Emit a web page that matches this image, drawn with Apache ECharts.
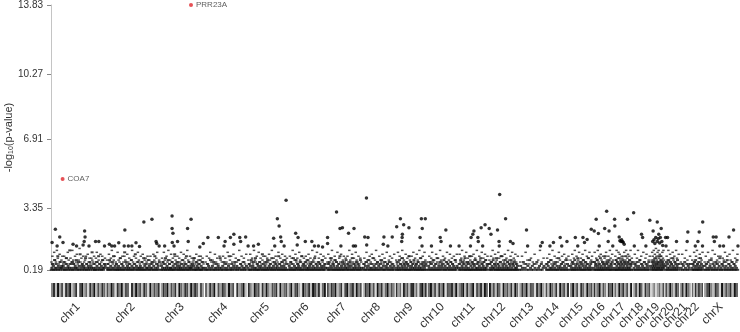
<!DOCTYPE html>
<html>
<head>
<meta charset="utf-8">
<script src="https://cdn.jsdelivr.net/npm/echarts@6/dist/echarts.min.js"></script>
<style>
  html, body { margin: 0; padding: 0; background: #fff; }
  #chart { width: 740px; height: 332px; }
</style>
</head>
<body>
<div id="chart"></div>
<script>
// chromosome names and lengths (Mb)
const chrNames = ['chr1', 'chr2', 'chr3', 'chr4', 'chr5', 'chr6', 'chr7', 'chr8', 'chr9', 'chr10', 'chr11', 'chr12',
  'chr13', 'chr14', 'chr15', 'chr16', 'chr17', 'chr18', 'chr19', 'chr20', 'chr21', 'chr22', 'chrX']
const chrLenMb = [249.25, 243.2, 198.0, 191.2, 180.9, 171.1, 159.1, 146.4, 141.2, 135.5, 135.0, 133.9,
  115.2, 107.3, 102.5, 90.4, 81.2, 78.1, 59.1, 63.0, 48.1, 51.3, 155.3]

const yTicks = [0.19, 3.35, 6.91, 10.27, 13.83]

// labelled genes (red)
const namedHits = [
  { gene: 'COA7', chr: 1, pos: 53.1, logP: 4.87 },
  { gene: 'PRR23A', chr: 3, pos: 138.7, logP: 13.83 }
]

// [chromosome (23 = X), position Mb, -log10 p] for points above the dense band
const topHits = [
  [1, 5, 1.61], [1, 20, 2.29], [1, 40, 1.89], [1, 28, 1.43], [1, 55, 1.61], [1, 101, 1.52], [1, 117, 1.43], [1, 154, 2.20],
  [1, 156, 1.89], [1, 152, 1.66], [1, 147, 1.48], [1, 174, 1.43], [1, 204, 1.66], [1, 219, 1.66], [1, 245, 1.43],
  [2, 13, 1.52], [2, 24, 1.42], [2, 37, 1.42], [2, 56, 1.59], [2, 84, 2.25], [2, 81, 1.43], [2, 100, 1.42], [2, 116, 1.43],
  [2, 135, 1.59], [2, 151, 1.40], [2, 171, 2.66], [2, 208, 2.80], [2, 227, 1.66], [2, 230, 1.55], [2, 241, 1.42],
  [3, 18, 1.42], [3, 52, 2.97], [3, 52, 2.32], [3, 56, 2.08], [3, 53, 1.61], [3, 61, 1.42], [3, 77, 1.66], [3, 123, 2.32],
  [3, 139, 2.80], [3, 126, 1.66], [3, 179, 1.38], [3, 195, 1.55],
  [4, 13, 1.86], [4, 61, 1.86], [4, 87, 1.42], [4, 92, 1.66], [4, 116, 1.86], [4, 132, 2.03], [4, 159, 1.86], [4, 186, 1.89],
  [4, 132, 1.52], [4, 163, 1.66],
  [5, 1, 1.42], [5, 26, 1.42], [5, 48, 1.52], [5, 118, 1.83], [5, 135, 2.83], [5, 143, 2.45], [5, 123, 1.42], [5, 150, 1.89],
  [5, 153, 1.66], [5, 166, 1.43], [5, 175, 3.78],
  [6, 33, 2.08], [6, 44, 1.86], [6, 40, 1.48], [6, 77, 1.66], [6, 107, 1.66], [6, 119, 1.42], [6, 137, 1.42], [6, 156, 1.38],
  [7, 3, 1.86], [7, 3, 1.55], [7, 44, 3.17], [7, 60, 2.32], [7, 71, 2.37], [7, 64, 1.42], [7, 99, 2.08], [7, 124, 2.32],
  [7, 121, 1.42], [7, 131, 1.42],
  [8, 17, 3.90], [8, 9, 1.89], [8, 24, 1.86], [8, 18, 1.48], [8, 97, 1.89], [8, 94, 1.52], [8, 115, 1.42], [8, 135, 1.89],
  [9, 4, 2.42], [9, 21, 2.83], [9, 36, 2.52], [9, 60, 2.37], [9, 29, 1.86], [9, 30, 2.03], [9, 27, 1.66], [9, 117, 2.83],
  [9, 135, 2.83], [9, 121, 2.32], [9, 111, 1.86], [9, 120, 1.42],
  [10, 17, 1.42], [10, 57, 1.86], [10, 61, 1.66], [10, 83, 2.25], [10, 104, 1.42],
  [11, 3, 1.42], [11, 58, 1.86], [11, 66, 2.03], [11, 71, 2.20], [11, 55, 1.42], [11, 89, 1.86], [11, 91, 1.66], [11, 104, 2.37],
  [11, 122, 2.52], [11, 111, 1.42],
  [12, 1, 2.32], [12, 9, 2.03], [12, 49, 4.07], [12, 39, 2.25], [12, 46, 1.66], [12, 47, 1.42], [12, 76, 2.83], [12, 98, 1.66],
  [12, 110, 1.55],
  [13, 33, 2.25], [13, 38, 1.42], [13, 105, 1.61], [13, 97, 1.42],
  [14, 20, 1.43], [14, 36, 1.61], [14, 67, 1.86], [14, 74, 1.42], [14, 98, 1.66],
  [15, 24, 1.86], [15, 35, 1.42], [15, 59, 1.86], [15, 66, 1.61], [15, 78, 1.76], [15, 97, 2.29],
  [16, 3, 2.20], [16, 12, 2.80], [16, 22, 2.07], [16, 26, 1.42], [16, 51, 2.32], [16, 60, 3.22], [16, 71, 2.20], [16, 67, 1.66],
  [16, 88, 1.42],
  [17, 1, 2.80], [17, 2, 2.45], [17, 22, 1.89], [17, 30, 1.66], [17, 37, 1.66], [17, 45, 1.52], [17, 60, 2.80], [17, 25, 1.70],
  [17, 33, 1.75], [17, 40, 1.62],
  [18, 2, 3.14], [18, 5, 1.42], [18, 38, 2.03], [18, 43, 1.86], [18, 58, 1.42], [18, 76, 2.75],
  [19, 8, 2.20], [19, 27, 2.66], [19, 34, 2.03], [19, 20, 1.86], [19, 41, 1.86], [19, 45, 2.32], [19, 6, 1.66], [19, 27, 1.66],
  [19, 48, 1.66], [19, 12, 1.75], [19, 16, 1.55], [19, 31, 1.80], [19, 38, 1.58], [19, 52, 1.45],
  [20, 1, 1.86], [20, 10, 1.86], [20, 3, 1.42], [20, 51, 1.66],
  [21, 35, 2.14], [21, 32, 1.66],
  [22, 34, 2.14], [22, 16, 1.42], [22, 28, 1.66], [22, 50, 2.66], [22, 49, 1.42],
  [23, 42, 1.89], [23, 55, 1.89], [23, 47, 1.66], [23, 72, 1.42], [23, 89, 1.42], [23, 114, 1.89], [23, 135, 2.25], [23, 155, 1.42]
]

// dense low band, -log10 p in tenths, listed along each chromosome
const bandLogP10 = [
  [2,3,5,2,4,2,7,3,2,5,3,2,9,4,2,3,6,2,3,4,3,2,4,6,2,3,2,5,8,2,3,4,2,3,12,2,5,3,2,6,
   2,5,3,2,4,3,7,2,3,2,6,4,2,10,3,2,4,5,2,3,4,2,3,8,2,5,2,3,4,2,3,6,2,4,3,11,2,3,5,2,
   2,3,2,6,4,2,3,9,2,5,3,2,4,2,7,3,2,3,5,4],
  [3,2,5,2,3,7,2,4,2,3,6,2,9,3,2,4,2,5,3,2,2,4,3,2,8,2,3,5,2,4,2,3,11,2,6,3,2,4,2,3,
   5,2,3,2,7,4,2,3,2,5,3,10,2,4,2,3,6,2,3,2,4,3,2,6,2,3,8,2,4,2,5,3,2,3,7,2,4,2,3,5,
   2,3,6,2,4,2,9,3,2,5,2,3,4,2,6],
  [2,4,2,3,6,2,5,3,2,8,2,3,4,2,7,3,2,5,2,3,3,2,6,2,4,2,3,10,2,5,3,2,4,6,2,3,2,4,3,2,
   5,2,3,7,2,4,2,3,5,2,9,3,2,4,2,6,3,2,3,4,2,3,5,2,4,8,2,3,2,6,2,4,3,2,5,3,2,7,2,4,
   2,3,6,2,3],
  [2,3,2,5,2,4,3,2,7,2,3,4,2,6,2,3,2,5,3,2,4,2,3,8,2,3,2,4,2,6,3,2,5,2,3,2,4,9,2,3,
   2,5,2,3,4,2,6,3,2,4,2,3,7,2,3,5,2,4,2,3,6,2,3,2,4],
  [3,2,5,2,4,2,7,3,2,4,6,2,3,2,8,3,2,5,2,4,2,3,6,2,4,3,2,10,2,5,3,2,4,2,6,3,2,7,2,3,
   4,2,5,3,2,8,2,3,4,2,6,2,3,5,2,4,3,2,9,2,5,3,2,4,2,6,3,2,4,2,7,3,2,5,2],
  [2,4,3,2,6,2,5,3,2,8,2,4,2,3,7,2,3,5,2,4,3,2,6,2,3,9,2,4,2,5,3,2,4,6,2,3,2,7,3,2,
   4,2,5,3,2,6,2,4,3,2,8,2,3,5,2,4,2,3,6,2,5,2,3,4,2,7,3,2,4,2,5,3],
  [3,2,5,2,6,3,2,4,8,2,3,5,2,4,2,7,3,2,6,2,4,3,2,5,2,9,3,2,4,2,6,3,2,5,2,4,3,7,2,3,
   2,5,4,2,3,6,2,4,2,8,3,2,5,2,3,4,2,6,3,2,5,2,4,3,2,7,2,3],
  [2,3,5,2,4,2,6,3,2,4,7,2,3,2,5,3,2,8,2,4,3,2,5,2,3,6,2,4,2,3,5,2,7,3,2,4,2,6,2,3,
   4,2,5,3,2,6,2,4,3,2,5,2,3,4,2],
  [3,2,6,2,4,3,2,7,2,5,3,2,4,8,2,3,5,2,4,2,6,3,2,5,2,4,9,2,3,2,6,4,2,3,5,2,7,3,2,4,
   2,5,3,2,6,2,4,3,2,8,2,3,5,2,4,2,6,3,2,4,5,2],
  [2,4,3,2,6,2,5,3,2,7,2,4,3,2,5,2,8,3,2,4,2,6,3,2,4,5,2,3,7,2,4,2,3,6,2,5,3,2,4,2,
   6,3,2,5,2,4,3,2,7,2,3,4],
  [3,2,5,2,7,3,2,4,6,2,3,5,2,8,2,4,3,2,6,2,5,3,2,9,2,4,2,6,3,2,5,2,4,7,2,3,2,5,3,2,
   6,2,4,3,2,8,2,5,3,2,4,6,2,3,2,7,3,2,4,5],
  [2,5,3,2,6,2,4,3,7,2,3,5,2,4,2,8,3,2,5,2,4,3,2,6,2,9,3,2,4,2,5,3,2,7,2,4,3,2,6,2,
   3,5,2,4,2,7,3,2,5,2,4,6,2,3,2,5,3,2,4,2],
  [2,4,2,3,6,2,3,5,2,4,2,7,3,2,4,2,5,3,2,6,2,3,4,2,5,2,3,4],
  [3,2,5,2,4,6,2,3,2,7,3,2,4,2,5,3,2,6,2,4,2,3,8,2,4,3,2,5,2,6,3,2,4,2,7,3,2,5,2,4],
  [2,4,3,2,6,2,5,3,2,7,2,4,3,2,5,8,2,3,4,2,6,3,2,5,2,4,7,2,3,2,6,4,2,3,5,2,8,3,2,4,
   2,5,3,2,6],
  [3,2,6,2,4,5,2,3,7,2,4,2,5,3,2,8,2,4,3,2,6,2,5,3,2,4,9,2,3,5,2,6,3,2,4,7,2,3,2,5,
   4,2,6,3,2],
  [2,5,3,2,7,2,4,6,2,3,5,2,8,3,2,4,6,2,5,3,2,7,2,4,3,6,2,5,2,9,3,2,4,6,2,3,5,2,7,3,
   2,4,5,2,6],
  [2,3,5,2,4,2,6,3,2,4,2,7,3,2,5,2,4,3,2,6,2,3,5,2,4,2,3,6,2,4],
  [3,2,6,4,2,5,3,7,2,4,6,3,2,8,5,2,4,3,6,2,5,3,9,2,4,6,3,2,5,7,2,4,3,6,2,5,3,4],
  [2,4,6,2,3,5,2,7,3,2,4,6,2,5,3,2,8,4,2,3,6,2,5,3,2,4,7,2,3,5],
  [2,3,5,2,4,2,6,3,2,5,2,4,3,2,5],
  [3,2,5,2,4,6,2,3,7,2,4,2,5,3,2,6,2,4,3,8,2,5,2,3,4],
  [2,4,2,5,3,2,6,2,3,4,2,7,3,2,5,2,4,3,2,6,2,5,3,2,4,8,2,3,2,5,4,2,6,3,2,4,2,7,3,2,
   5,2,4,3,2,6,2,3,5,2,4,2,3,7,2]
]

// upper, sparser part of the band (tenths)
const bandUpperLogP10 = [
  [6,9,5,11,7,6,12,8,5,10,6,7,9,5,9,6,8,5,11,7,5,8,6,12,7,5,9,6,10,5,7,13,6,8,5,9,6,7,9,5,
   10,6,8,5,8,7,6,9,5,8,11,6,7,5,10,6,9,7,5,8],
  [7,5,10,6,8,12,5,7,9,6,5,11,7,6,8,5,9,6,9,7,5,10,6,8,5,7,12,6,9,5,8,6,11,7,5,9,6,10,5,7,
   8,6,9,5,7,9,6,5,10,7,6,8,11,5,7],
  [5,8,6,11,7,5,9,6,12,5,7,10,6,8,5,9,7,6,9,5,8,6,11,7,5,10,6,8,5,12,7,6,9,5,8,6,7,8,5,10,
   6,7,9,5,9,6,8,5],
  [6,9,5,8,11,6,7,5,10,6,8,5,9,7,6,9,5,8,6,11,5,7,9,6,10,5,8,6,7,12,5,9,6,8,5,10],
  [7,5,10,6,8,5,12,7,6,9,5,11,6,8,5,7,9,6,9,5,8,6,10,7,5,12,6,8,5,9,7,6,11,5,8,6,10,7,5,9,
   6,8],
  [5,9,6,8,12,5,7,10,6,8,5,11,7,6,9,5,8,6,9,7,5,10,6,8,5,12,7,6,9,5,11,6,8,5,10,7,6,9,5,8],
  [6,10,5,8,7,12,6,5,9,7,6,11,5,8,6,10,5,7,9,6,8,5,9,6,12,7,5,10,6,8,5,11,7,6,9,5,8,6],
  [5,8,6,11,7,5,9,6,10,5,8,7,12,6,5,9,7,6,10,5,8,6,11,5,7,9,6,8,5,10],
  [7,5,11,6,9,5,8,12,6,7,5,10,6,8,5,9,7,6,9,5,11,6,8,5,10,7,6,12,5,8,6,9,5,11,7,6],
  [6,9,5,8,11,6,7,5,10,6,8,5,12,7,6,9,5,8,6,11,5,7,10,6,8,5,9,7,6,10],
  [5,10,6,8,12,5,7,9,6,11,5,8,6,9,7,5,9,6,10,5,8,7,12,6,5,9,7,6,11,5,8,6,10,7,5,9],
  [7,5,9,6,12,8,5,10,6,7,5,11,8,6,9,5,9,7,6,10,5,8,6,12,7,5,9,6,11,5,8,7,10,6,5,9],
  [6,9,5,11,7,5,8,6,10,5,7,12,6,8],
  [5,8,6,10,7,5,12,6,9,5,8,6,11,7,5,9,6,10,5,8,7,9],
  [7,5,10,6,8,12,5,9,6,7,11,5,8,6,10,7,5,12,6,9,5,8,11,6,7,9],
  [6,11,5,8,7,12,6,9,5,10,7,6,9,5,8,6,11,7,5,9,6,12,8,5,10,7],
  [5,9,7,12,6,8,11,5,10,7,6,9,8,5,9,11,6,7,12,5,8,10,6,9,7,12,5,8],
  [6,10,5,8,12,6,7,9,5,11,6,8,10,5,7,9],
  [7,11,9,6,12,8,10,5,13,9,7,11,6,12,8,10,7,9,9,6,11,8,12,7],
  [5,9,7,12,6,10,8,5,11,7,9,6,12,8,5,10],
  [6,10,5,8,12,7,5,9],
  [7,5,11,6,9,12,5,8,10,6,7,11],
  [6,9,5,11,7,5,8,12,6,10,5,7,9,6,9,5,8,7,11,6,9,5,10,7,6,12,5,8,6,10]
]

// grey level of the stripes in the chromosome bar (0 = black, 7 = light)
const stripeShades = [
  [4,1,6,0,5,2,7,1,3,0,6,4,1,8,2,0,5,3,7,1,4,0,6,2,5,1,3],
  [2,5,0,3,7,1,4,0,6,2,3,8,1,5,0,4,2,6,1,3,7,0,5,2,4,1],
  [5,1,3,0,6,2,4,1,7,0,3,5,1,2,6,0,4,1,3,7,2,5],
  [3,6,1,4,0,7,2,5,1,3,6,0,4,2,8,1,5,3,0,6],
  [1,4,6,0,3,2,7,1,5,0,4,6,2,3,1,7,0,5,3,2],
  [4,0,6,2,1,5,7,0,3,4,1,6,0,2,5,1,7,3,0],
  [2,5,1,3,0,6,4,1,7,2,0,5,3,1,6,0,4,2],
  [6,1,3,0,5,2,7,0,4,1,6,3,0,5,2,4],
  [1,5,3,7,0,4,2,6,1,0,5,3,7,2,0,4,1],
  [3,0,5,2,6,1,4,0,7,2,3,1,5,0],
  [4,2,0,6,1,5,3,0,7,2,4,1,6,0,3],
  [0,5,2,6,1,3,7,0,4,2,5,1,6,0,3],
  [5,1,4,0,6,2,3,7,1,4,0,5],
  [2,6,0,3,5,1,7,0,4,2,6,1],
  [4,0,5,2,7,1,3,6,0,4,2],
  [1,5,3,0,6,2,4,7,1,3,0],
  [3,6,0,4,1,5,2,7,0],
  [5,2,6,0,3,7,1,4,2],
  [6,4,7,5,3,6,2],
  [2,5,0,4,6,1,3],
  [4,1,6,0,3,5],
  [3,6,1,5,0,4,2],
  [5,2,0,4,6,1,3,7,0,5,2,4,1,6,0,3]
]

const GAP = 5
const chrStart = []
let acc = 0
chrLenMb.forEach((len, i) => {
  chrStart.push(acc)
  acc += len + (i < chrLenMb.length - 1 ? GAP : 0)
})
const genomeLen = acc
const chrMid = chrStart.map((s, i) => s + chrLenMb[i] / 2)
const gx = (chr, pos) => chrStart[chr - 1] + pos

// spread each chromosome's band values along that chromosome
const spread = (rows) => {
  const out = []
  rows.forEach((vals, c) => {
    vals.forEach((v, i) => {
      out.push([chrStart[c] + (i + 0.5) / vals.length * chrLenMb[c], v / 10])
    })
  })
  return out
}
const bandLow = spread(bandLogP10)
const bandHigh = spread(bandUpperLogP10)

const hitData = topHits.map(h => [gx(h[0], h[1]), h[2]])
const namedData = namedHits.map(h => ({ name: h.gene, value: [gx(h.chr, h.pos), h.logP] }))

const stripeData = []
stripeShades.forEach((shades, c) => {
  const w = chrLenMb[c] / shades.length
  shades.forEach((s, i) => {
    stripeData.push([chrStart[c] + i * w, chrStart[c] + (i + 1) * w, s])
  })
})

const chart = echarts.init(document.getElementById('chart'))

const option = {
  animation: false,
  backgroundColor: '#fff',
  textStyle: { fontFamily: 'Liberation Sans' },
  grid: [
    { left: 51, right: 2, top: 5, bottom: 62, outerBoundsMode: 'none' },
    { left: 51, right: 2, top: 283, height: 14, outerBoundsMode: 'none' }
  ],
  xAxis: [
    { type: 'value', gridIndex: 0, min: 0, max: genomeLen, show: false },
    {
      type: 'value',
      gridIndex: 1,
      min: 0,
      max: genomeLen,
      axisLine: { show: false },
      axisTick: { show: false },
      splitLine: { show: false },
      axisLabel: {
        customValues: chrMid,
        rotate: 45,
        margin: 8,
        fontSize: 12,
        color: '#333',
        formatter: (v) => {
          let best = 0
          chrMid.forEach((m, i) => {
            if (Math.abs(m - v) < Math.abs(chrMid[best] - v)) best = i
          })
          return chrNames[best]
        }
      }
    }
  ],
  yAxis: [
    {
      type: 'value',
      gridIndex: 0,
      min: 0.19,
      max: 13.83,
      name: '-log{sub|10}(p-value)',
      nameLocation: 'middle',
      nameRotate: 90,
      nameGap: 36,
      nameMoveOverlap: false,
      nameTextStyle: {
        fontSize: 11,
        color: '#333',
        rich: { sub: { fontSize: 7, color: '#333', verticalAlign: 'bottom', padding: [6, 0, 0, 0] } }
      },
      axisLine: { show: true, lineStyle: { color: '#c4c4c4', width: 1 } },
      axisTick: { show: true, length: 4, customValues: yTicks, lineStyle: { color: '#888' } },
      splitLine: { show: false },
      axisLabel: {
        customValues: yTicks,
        margin: 8,
        fontSize: 10,
        color: '#333',
        formatter: (v) => v.toFixed(2)
      }
    },
    { type: 'value', gridIndex: 1, min: 0, max: 1, show: false }
  ],
  series: [
    {
      type: 'scatter',
      xAxisIndex: 0,
      yAxisIndex: 0,
      symbol: 'rect',
      symbolSize: [3, 2],
      itemStyle: { color: '#111' },
      silent: true,
      data: bandLow
    },
    {
      type: 'scatter',
      xAxisIndex: 0,
      yAxisIndex: 0,
      symbol: 'rect',
      symbolSize: [2.5, 1.5],
      itemStyle: { color: '#222' },
      silent: true,
      data: bandHigh
    },
    {
      type: 'scatter',
      xAxisIndex: 0,
      yAxisIndex: 0,
      symbolSize: 3.5,
      itemStyle: { color: '#000' },
      silent: true,
      data: hitData
    },
    {
      type: 'scatter',
      xAxisIndex: 0,
      yAxisIndex: 0,
      symbolSize: 4,
      itemStyle: { color: '#e0262c' },
      label: { show: true, position: 'right', distance: 3, fontSize: 8, color: '#333', formatter: (p) => p.name },
      data: namedData
    },
    {
      type: 'custom',
      xAxisIndex: 1,
      yAxisIndex: 1,
      silent: true,
      renderItem: (params, api) => {
        const p0 = api.coord([api.value(0), 1])
        const p1 = api.coord([api.value(1), 0])
        const g = Math.round(20 + api.value(2) * 28)
        return {
          type: 'rect',
          shape: { x: p0[0], y: p0[1], width: p1[0] - p0[0], height: p1[1] - p0[1] },
          style: { fill: `rgb(${g},${g},${g})` }
        }
      },
      data: stripeData
    }
  ]
}

chart.setOption(option)
</script>
</body>
</html>
